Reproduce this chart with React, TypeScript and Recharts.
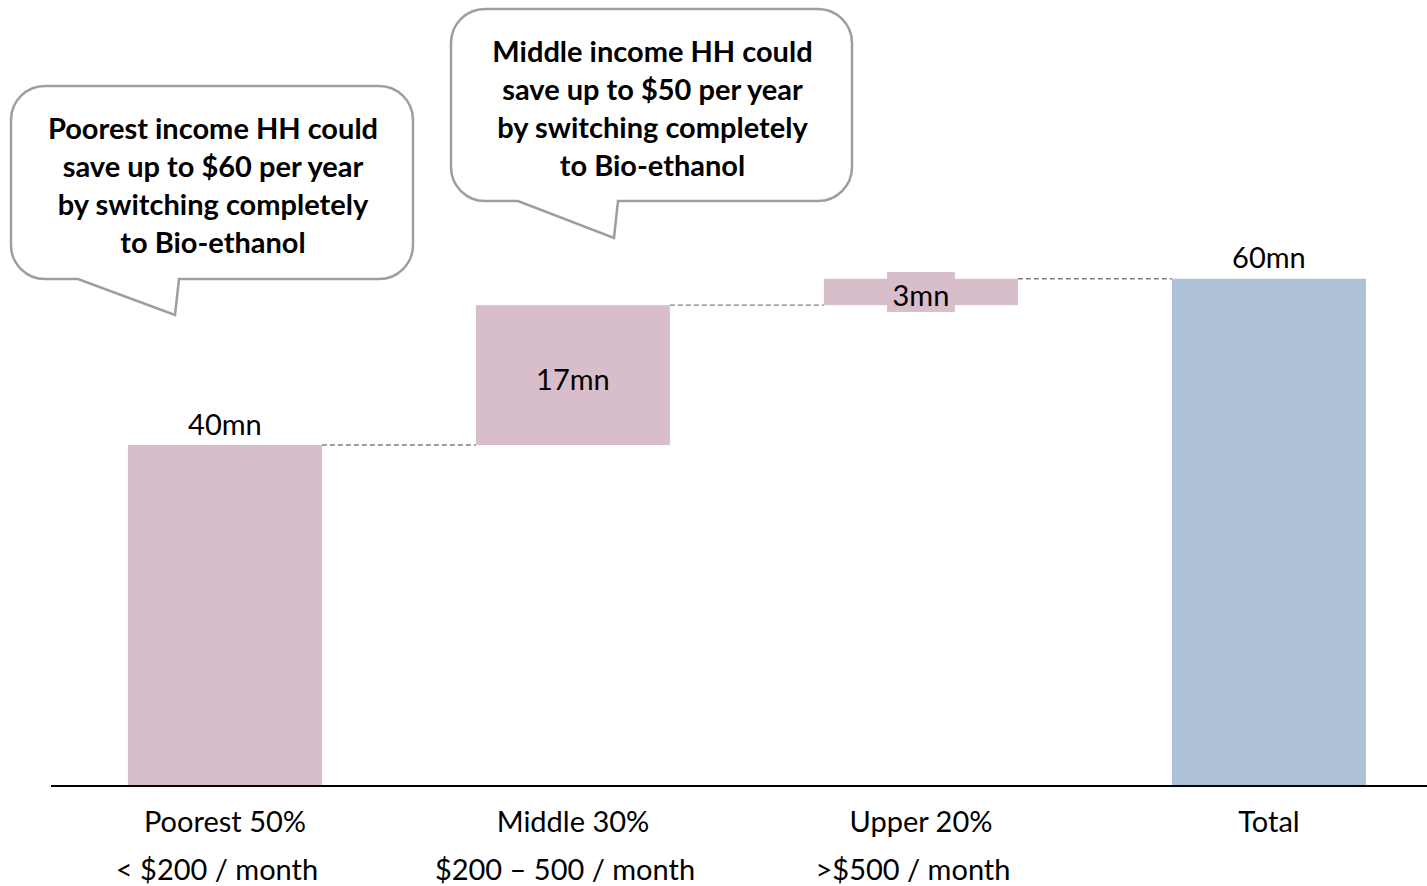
import { BarChart, Bar, XAxis, YAxis, Cell, LabelList } from "recharts"

const categories = ["Poorest 50%", "Middle 30%", "Upper 20%", "Total"]
const subLabels = ["< $200 / month", "$200 – 500 / month", ">$500 / month", ""]
const steps = [40, 16.4, 3.1]
const total = 59.5
const valueLabels = ["40mn", "17mn", "3mn", "60mn"]

const callouts = [
  ["Poorest income HH could", "save up to $60 per year", "by switching completely", "to Bio-ethanol"],
  ["Middle income HH could", "save up to $50 per year", "by switching completely", "to Bio-ethanol"],
]

const W = 1450
const H = 886
const M = { top: 104, right: 7, left: 51, bottom: 0 }
const FONT = "Lato, 'Open Sans', sans-serif"
const PINK = "#D8BECB"
const BLUE = "#ADC2D7"

// running base for waterfall steps, total sits on the floor
const bases = steps.map((_, i) => steps.slice(0, i).reduce((a, b) => a + b, 0))
const data = categories.map((name, i) => ({
  name,
  sub: subLabels[i],
  label: valueLabels[i],
  base: i < steps.length ? bases[i] : 0,
  value: i < steps.length ? steps[i] : total,
}))

const band = (W - M.left - M.right) / data.length

const StepShape = (props: any) => {
  const { x, y, width, height, fill, index } = props
  const gap = band - width
  return (
    <g>
      <rect x={x} y={y} width={width} height={height} fill={fill} />
      {index < data.length - 1 && (
        <line x1={x + width} x2={x + width + gap} y1={y} y2={y} stroke="#7f7f7f" strokeWidth={1.3} strokeDasharray="5 3" />
      )}
    </g>
  )
}

const ValueLabel = (props: any) => {
  const { x, y, width, height, index } = props
  const d = data[index]
  const cx = x + width / 2
  const inside = d.base > 0
  const cy = inside ? y + height / 2 + 3 : y - 22
  const small = inside && height < 40
  return (
    <g>
      {small && <rect x={cx - 34} y={cy - 23} width={68} height={40} fill={PINK} />}
      <text x={cx} y={cy} textAnchor="middle" dominantBaseline="central" fontSize={29} fontFamily={FONT} fill="#000">
        {d.label}
      </text>
    </g>
  )
}

const Tick = (props: any) => {
  const { x, y, index } = props
  const d = data[index]
  return (
    <g fontFamily={FONT} fontSize={29} fill="#000">
      <text x={x} y={y + 26} textAnchor="middle" dominantBaseline="central">{d.name}</text>
      <text x={x - 8} y={y + 74} textAnchor="middle" dominantBaseline="central">{d.sub}</text>
    </g>
  )
}

const bubblePath = (x: number, y: number, w: number, h: number, r: number, t1: number, t2: number, px: number, py: number) =>
  `M${x + r},${y} H${x + w - r} A${r},${r} 0 0 1 ${x + w},${y + r} V${y + h - r} A${r},${r} 0 0 1 ${x + w - r},${y + h} ` +
  `H${t2} L${px},${py} L${t1},${y + h} H${x + r} A${r},${r} 0 0 1 ${x},${y + h - r} V${y + r} A${r},${r} 0 0 1 ${x + r},${y} Z`

const bubbles = [
  { x: 11, y: 86, w: 402, h: 193, t1: 78, t2: 179, px: 175, py: 315 },
  { x: 451, y: 9, w: 401, h: 192, t1: 518, t2: 618, px: 614, py: 238 },
]

export default function App() {
  return (
    <div style={{ position: "absolute", left: 0, top: 0, width: 1427, height: H, overflow: "hidden", background: "#fff" }}>
      <BarChart width={W} height={H} data={data} margin={M} barCategoryGap="22.1%">
        <YAxis hide domain={[0, 80]} />
        <XAxis
          dataKey="name"
          height={100}
          axisLine={{ stroke: "#000", strokeWidth: 2 }}
          tickLine={false}
          interval={0}
          tick={<Tick />}
        />
        <Bar dataKey="base" stackId="a" fill="transparent" isAnimationActive={false} />
        <Bar dataKey="value" stackId="a" shape={<StepShape />} isAnimationActive={false}>
          {data.map((_, i) => (
            <Cell key={i} fill={i < steps.length ? PINK : BLUE} />
          ))}
          <LabelList dataKey="label" content={<ValueLabel />} />
        </Bar>
      </BarChart>
      <svg width={W} height={H} style={{ position: "absolute", left: 0, top: 0, pointerEvents: "none" }}>
        {bubbles.map((b, i) => (
          <g key={i}>
            <path d={bubblePath(b.x, b.y, b.w, b.h, 34, b.t1, b.t2, b.px, b.py)} fill="#fff" stroke="#9e9e9e" strokeWidth={2.5} />
            {callouts[i].map((line, j) => (
              <text
                key={j}
                x={b.x + b.w / 2 + 1}
                y={b.y + 41 + j * 38}
                textAnchor="middle"
                dominantBaseline="central"
                fontFamily={FONT}
                fontWeight="bold"
                fontSize={29}
                fill="#000"
              >
                {line}
              </text>
            ))}
          </g>
        ))}
      </svg>
    </div>
  )
}
